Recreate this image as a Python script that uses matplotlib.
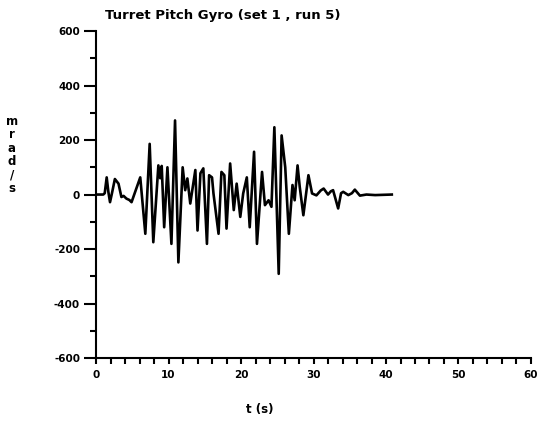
import matplotlib
matplotlib.use("Agg")
import matplotlib.pyplot as plt
from matplotlib.ticker import MultipleLocator

# time (s) and turret pitch rate (mrad/s)
t = [0.0, 1.0, 1.2, 1.47, 1.7, 1.93, 2.2, 2.6, 3.1, 3.5, 3.8, 4.2, 4.6, 4.9, 5.4,
     6.1, 6.8, 7.4, 7.9, 8.6, 8.85, 9.06, 9.4, 9.85, 10.4, 10.9, 11.36, 11.95,
     12.3, 12.6, 13.0, 13.7, 14.0, 14.4, 14.8, 15.3, 15.6, 16.0, 16.2, 16.9,
     17.3, 17.7, 18.0, 18.5, 19.0, 19.4, 19.9, 20.3, 20.8, 21.2, 21.8, 22.2,
     22.9, 23.3, 23.8, 24.2, 24.6, 25.2, 25.6, 26.1, 26.6, 27.1, 27.4, 27.8,
     28.1, 28.6, 29.3, 29.8, 30.4, 31.0, 31.4, 32.0, 32.4, 32.7, 33.4, 33.8,
     34.1, 34.8, 35.3, 35.7, 36.4, 37.3, 38.5, 40.8]
v = [0, 0, 5, 63, 10, -28, 5, 57, 40, -9, -5, -15, -20, -28, 10,
     63, -144, 186, -175, 107, 60, 105, -120, 100, -181, 272, -249, 100,
     16, 59, -33, 90, -132, 78, 96, -181, 71, 63, 4, -144,
     83, 71, -125, 114, -57, 40, -82, 4, 63, -120, 157, -181,
     83, -39, -21, -45, 247, -291, 217, 100, -144, 35, -21, 107,
     28, -76, 71, 4, -3, 15, 22, 0, 12, 16, -51, 5,
     10, -2, 5, 18, -4, 0, -2, 0]

x_ticks = [0, 10, 20, 30, 40, 50, 60]
y_ticks = [-600, -400, -200, 0, 200, 400, 600]

fig = plt.figure(figsize=(5.41, 4.21), dpi=100)
ax = fig.add_axes([0.1775, 0.1496, 0.8040, 0.7766])
ax.plot(t, v, color="black", lw=1.9, solid_joinstyle="round")

ax.set_xlim(0, 60)
ax.set_ylim(-600, 600)
ax.set_xticks(x_ticks)
ax.set_yticks(y_ticks)
ax.xaxis.set_minor_locator(MultipleLocator(2))
ax.yaxis.set_minor_locator(MultipleLocator(100))
for s in ["top", "right"]:
    ax.spines[s].set_visible(False)
for s in ["left", "bottom"]:
    ax.spines[s].set_linewidth(1.5)

fb = dict(family="DejaVu Sans", weight="bold", size=7.5)
ax.set_xticklabels([str(x) for x in x_ticks], **fb)
ax.set_yticklabels([str(y) for y in y_ticks], **fb)
ax.tick_params(axis="y", which="major", length=8.5, width=1.5, pad=3)
ax.tick_params(axis="y", which="minor", length=4.5, width=1.5)
ax.tick_params(axis="x", which="major", length=4.5, width=1.5, pad=4)
ax.tick_params(axis="x", which="minor", length=4.0, width=1.5)

fig.text(105 / 541, 1 - 15 / 421, "Turret Pitch Gyro (set 1 , run 5)",
         ha="left", va="center", family="DejaVu Sans", weight="bold", size=9.5)
fig.text(260 / 541, 1 - 409 / 421, "t (s)", ha="center", va="center",
         family="DejaVu Sans", weight="bold", size=8.5)
fig.text(12 / 541, 1 - 155 / 421, "m\nr\na\nd\n/\ns", ha="center", va="center",
         linespacing=1.05, family="DejaVu Sans", weight="bold", size=8.5)

fig.savefig("out.png", dpi=100)
